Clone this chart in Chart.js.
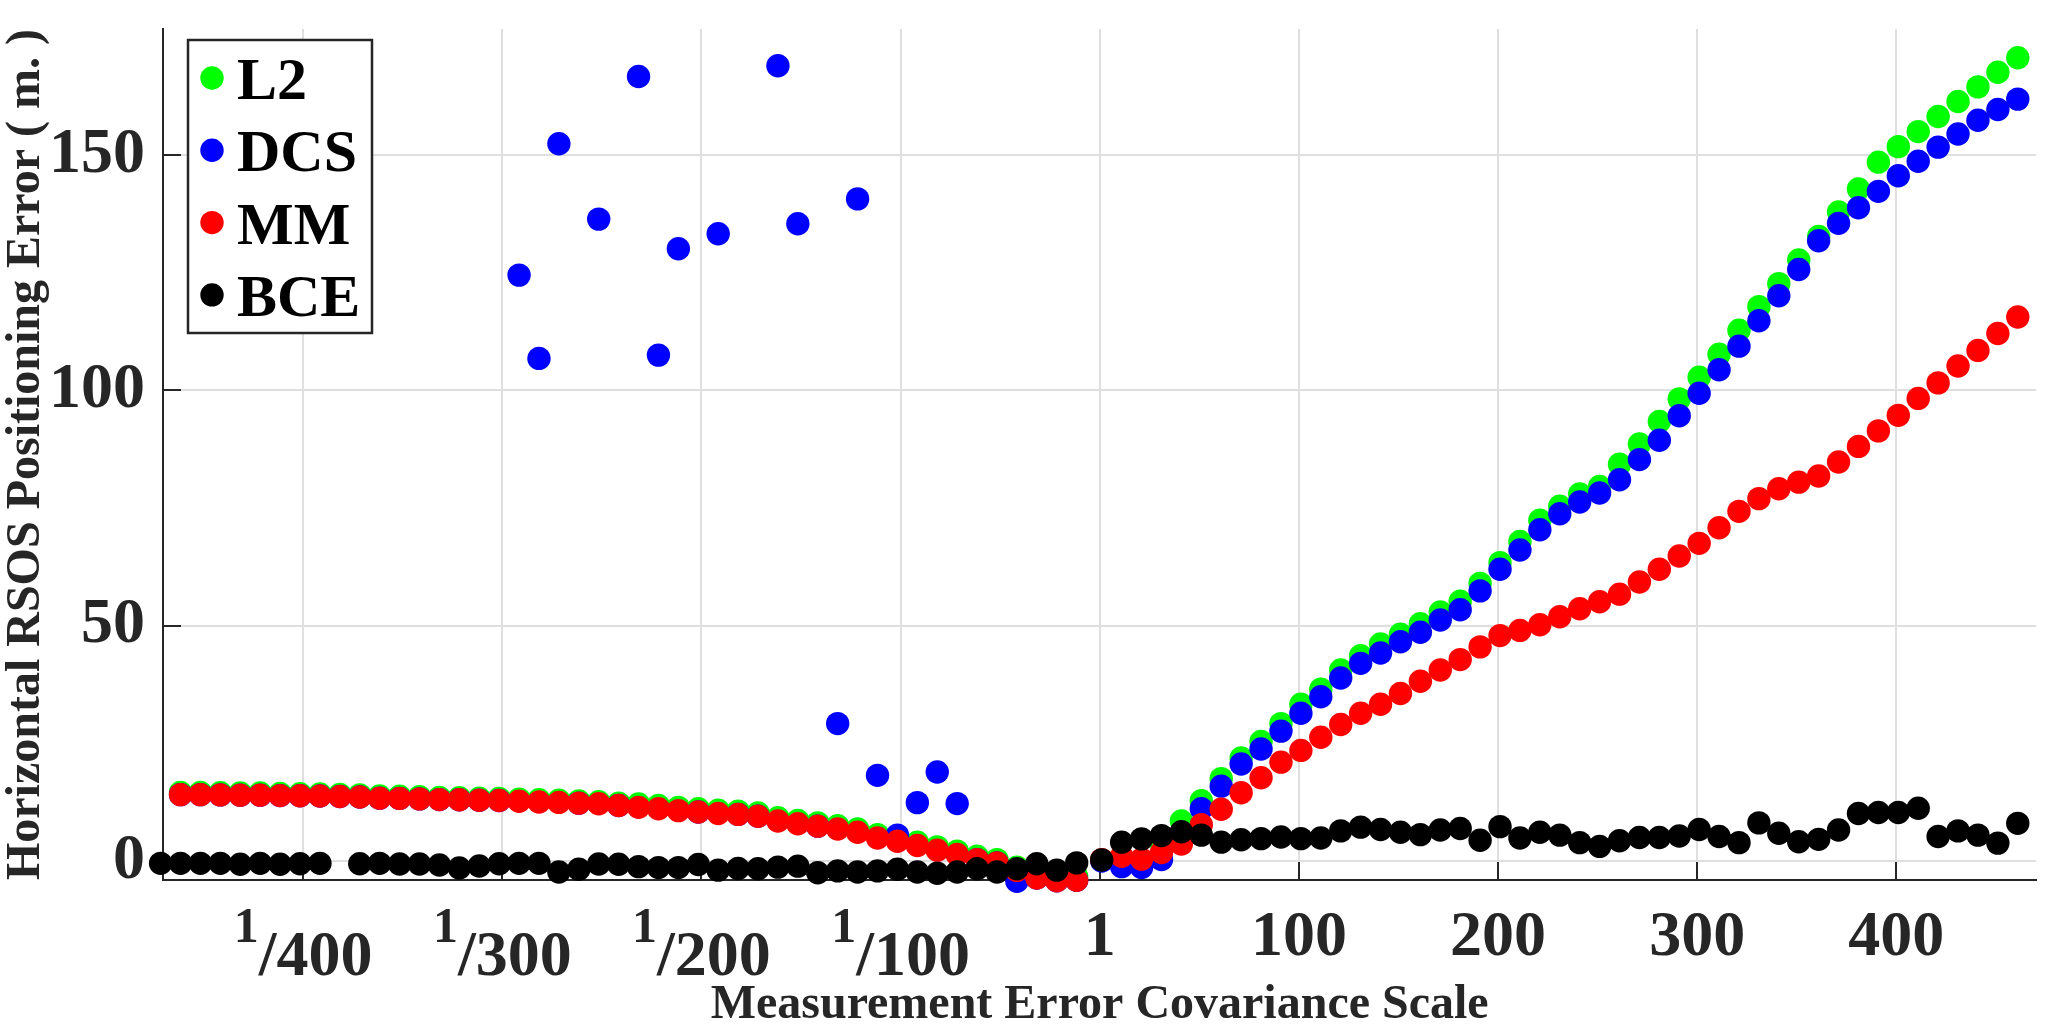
<!DOCTYPE html>
<html>
<head>
<meta charset="utf-8">
<title>Horizontal RSOS Positioning Error</title>
<script src="https://cdn.jsdelivr.net/npm/chart.js@4.4.1/dist/chart.umd.min.js"></script>
<style>
    html, body { margin: 0; padding: 0; background: #ffffff; }
    canvas { display: block; }
</style>
</head>
<body>
<canvas id="grafica" width="2048" height="1030"></canvas>
<script>
"use strict";

// posicion en el eje: -k para 1/k, k para la escala k
const xPos = [
    -471.6, -461.6, -451.6, -441.6, -431.6, -421.6, -411.6, -401.6, -391.6, -381.6,
    -371.6, -361.6, -351.6, -341.6, -331.6, -321.6, -311.6, -301.6, -291.6, -281.6,
    -271.6, -261.6, -251.6, -241.6, -231.6, -221.6, -211.6, -201.6, -191.6, -181.6,
    -171.6, -161.6, -151.6, -141.6, -131.6, -121.6, -111.6, -101.6, -91.6, -81.6,
    -71.6, -61.6, -51.6, -41.6, -31.6, -21.6, -11.6,
    1, 11, 21, 31, 41, 51, 61, 71, 81, 91,
    101, 111, 121, 131, 141, 151, 161, 171, 181, 191,
    201, 211, 221, 231, 241, 251, 261, 271, 281, 291,
    301, 311, 321, 331, 341, 351, 361, 371, 381, 391,
    401, 411, 421, 431, 441, 451, 461,
];

const l2 = [
    null, 14.55, 14.55, 14.5, 14.45, 14.45, 14.35, 14.3, 14.25, 14.15,
    14.05, 13.8, 13.75, 13.65, 13.5, 13.45, 13.35, 13.3, 13.15, 13.0,
    12.9, 12.75, 12.6, 12.3, 12.1, 11.8, 11.4, 11.1, 10.8, 10.6,
    10.2, 9.2, 8.6, 8.1, 7.5, 6.8, 5.6, 4.9, 4.0, 3.0,
    2.1, 1.0, 0.3, -1.3, -3.0, -3.6, -3.3,
    0.2, 0.0, -0.5, 3.6, 8.5, 12.8, 17.5, 21.9, 25.4, 29.2,
    33.3, 36.5, 40.6, 43.6, 46.1, 48.2, 50.4, 52.9, 55.2, 59.0,
    63.4, 67.9, 72.4, 75.4, 78.0, 79.6, 84.3, 88.6, 93.4, 98.2,
    102.8, 107.7, 112.8, 117.8, 122.7, 127.7, 132.7, 137.9, 142.8, 148.5,
    151.8, 155.0, 158.2, 161.4, 164.5, 167.6, 170.7,
];

const dcs = [
    null, 14.1, 14.1, 14.05, 14.0, 14.0, 13.9, 13.85, 13.8, 13.7,
    13.6, 13.35, 13.3, 13.2, 13.05, 13.0, 12.9, 12.85, 124.5, 106.8,
    152.4, 12.3, 136.4, 11.8, 166.7, 107.5, 130.1, 10.4, 133.3, 9.9,
    9.5, 169.0, 135.4, 7.4, 29.2, 140.7, 18.2, 5.5, 12.4, 18.9,
    12.2, 0.3, -0.4, -4.3, -3.6, -4.2, -4.1,
    0.0, -1.2, -1.4, 0.3, 5.5, 11.1, 15.9, 20.6, 23.8, 27.6,
    31.4, 34.9, 38.9, 42.0, 44.2, 46.6, 48.6, 51.2, 53.4, 57.4,
    62.0, 66.1, 70.4, 73.8, 76.3, 78.2, 81.0, 85.3, 89.4, 94.6,
    99.4, 104.4, 109.4, 114.8, 120.1, 125.7, 131.8, 135.5, 138.8, 142.3,
    145.6, 148.7, 151.7, 154.5, 157.4, 159.7, 161.9,
];

const mm = [
    null, 14.1, 14.1, 14.05, 14.0, 14.0, 13.9, 13.85, 13.8, 13.7,
    13.6, 13.35, 13.3, 13.2, 13.05, 13.0, 12.9, 12.85, 12.7, 12.55,
    12.45, 12.3, 12.15, 11.8, 11.4, 11.1, 10.7, 10.4, 10.1, 9.9,
    9.5, 8.5, 7.9, 7.4, 6.8, 6.1, 4.9, 4.2, 3.3, 2.3,
    1.4, 0.3, -0.4, -2.0, -3.6, -4.2, -4.1,
    0.3, 1.0, 0.4, 1.8, 3.6, 7.7, 11.0, 14.5, 17.7, 21.0,
    23.5, 26.3, 29.0, 31.4, 33.3, 35.6, 38.2, 40.6, 42.8, 45.5,
    47.9, 49.0, 50.2, 51.9, 53.6, 55.1, 56.7, 59.3, 62.0, 64.8,
    67.5, 70.8, 74.3, 77.0, 79.1, 80.5, 81.8, 84.8, 88.1, 91.4,
    94.7, 98.3, 101.6, 105.2, 108.5, 112.1, 115.6,
];

const bce = [
    -0.5, -0.5, -0.5, -0.5, -0.7, -0.5, -0.7, -0.6, -0.5, null,
    -0.6, -0.5, -0.65, -0.65, -0.85, -1.5, -1.05, -0.6, -0.5, -0.5,
    -2.35, -1.75, -0.65, -0.7, -1.2, -1.4, -1.4, -0.75, -1.95, -1.6,
    -1.65, -1.3, -1.1, -2.5, -2.1, -2.35, -2.1, -1.75, -2.35, -2.6,
    -2.35, -1.65, -2.35, -1.65, -0.6, -1.95, -0.4,
    0.2, 4.0, 4.7, 5.4, 6.2, 5.5, 4.0, 4.5, 4.75, 5.1,
    4.75, 4.9, 6.4, 7.2, 6.7, 6.1, 5.6, 6.6, 6.9, 4.4,
    7.3, 4.9, 6.1, 5.5, 3.9, 3.1, 4.3, 5.0, 5.0, 5.3,
    6.7, 5.2, 3.9, 8.1, 5.9, 4.1, 4.6, 6.6, 10.1, 10.3,
    10.3, 11.2, 5.2, 6.4, 5.5, 3.8, 8.0,
];

const seriesNames = ["L2", "DCS", "MM", "BCE"];
const seriesColors = ["#00ff00", "#0000ff", "#ff0000", "#000000"];

const xTickValues = [-400, -300, -200, -100, 0, 100, 200, 300, 400];
const xTickLabels = ["1/400", "1/300", "1/200", "1/100", "1", "100", "200", "300", "400"];
const yTickValues = [0, 50, 100, 150];

document.addEventListener("DOMContentLoaded", () => {
    const grafica = document.querySelector("#grafica");
    const FONT = '"Liberation Serif", "Times New Roman", serif';
    const ejeColor = "#262626";
    const gridColor = "#dfdfdf";

    /**
     * Marcas de los ejes hacia adentro (como en MATLAB)
     */
    const marcasInternas = {
        id: "marcasInternas",
        beforeDatasetsDraw(chart) {
            const { ctx, chartArea, scales } = chart;
            ctx.save();
            ctx.strokeStyle = ejeColor;
            ctx.lineWidth = 2;
            ctx.beginPath();
            scales.x.ticks.forEach((t) => {
                const px = Math.round(scales.x.getPixelForValue(t.value));
                ctx.moveTo(px, chartArea.bottom);
                ctx.lineTo(px, chartArea.bottom - 18);
            });
            scales.y.ticks.forEach((t) => {
                const py = Math.round(scales.y.getPixelForValue(t.value));
                ctx.moveTo(chartArea.left, py);
                ctx.lineTo(chartArea.left + 18, py);
            });
            ctx.stroke();
            ctx.restore();
        },
    };

    /**
     * Etiquetas del eje x, las fracciones con el 1 elevado
     */
    const etiquetasX = {
        id: "etiquetasX",
        afterDraw(chart) {
            const { ctx, chartArea, scales } = chart;
            const base = chartArea.bottom;
            ctx.save();
            ctx.fillStyle = ejeColor;
            ctx.textBaseline = "alphabetic";
            scales.x.ticks.forEach((t) => {
                const label = xTickLabels[xTickValues.indexOf(t.value)];
                const px = scales.x.getPixelForValue(t.value);
                if (label.includes("/")) {
                    const [num, den] = label.split("/");
                    ctx.font = `bold 50px ${FONT}`;
                    const wNum = ctx.measureText(num).width;
                    ctx.font = `bold 64px ${FONT}`;
                    const wDen = ctx.measureText("/" + den).width;
                    const x0 = px - (wNum + wDen) / 2;
                    ctx.textAlign = "left";
                    ctx.font = `bold 50px ${FONT}`;
                    ctx.fillText(num, x0, base + 62);
                    ctx.font = `bold 64px ${FONT}`;
                    ctx.fillText("/" + den, x0 + wNum, base + 95);
                } else {
                    ctx.textAlign = "center";
                    ctx.font = `bold 64px ${FONT}`;
                    ctx.fillText(label, px, base + 75);
                }
            });
            ctx.restore();
        },
    };

    /**
     * Leyenda dentro del area de la grafica
     */
    const leyenda = {
        id: "leyenda",
        afterDraw(chart) {
            const { ctx, chartArea } = chart;
            const x0 = chartArea.left + 25;
            const y0 = chartArea.top + 11;
            const paso = 72.3;
            ctx.save();
            ctx.fillStyle = "#ffffff";
            ctx.fillRect(x0, y0, 184, 293);
            ctx.strokeStyle = ejeColor;
            ctx.lineWidth = 2.5;
            ctx.strokeRect(x0, y0, 184, 293);
            ctx.font = `bold 60px ${FONT}`;
            ctx.textAlign = "left";
            ctx.textBaseline = "alphabetic";
            chart.data.datasets.forEach((ds, i) => {
                const cy = y0 + 38 + i * paso;
                ctx.fillStyle = ds.backgroundColor;
                ctx.beginPath();
                ctx.arc(x0 + 24, cy, 11.7, 0, Math.PI * 2);
                ctx.fill();
                ctx.fillStyle = "#000000";
                ctx.fillText(ds.label, x0 + 49, cy + 21);
            });
            ctx.restore();
        },
    };

    const datasets = [l2, dcs, mm, bce].map((serie, i) => ({
        label: seriesNames[i],
        data: xPos
            .map((x, j) => ({ x: x, y: serie[j] }))
            .filter((p) => p.y !== null),
        backgroundColor: seriesColors[i],
        borderColor: seriesColors[i],
        borderWidth: 0,
        pointRadius: 11.7,
        pointHoverRadius: 11.7,
        order: 4 - i,
        clip: false,
    }));

    new Chart(grafica, {
        type: "scatter",
        data: { datasets: datasets },
        options: {
            responsive: false,
            animation: false,
            devicePixelRatio: 1,
            layout: { padding: { top: 29, right: 0, bottom: 0, left: 0 } },
            plugins: {
                legend: { display: false },
                tooltip: { enabled: false },
            },
            scales: {
                x: {
                    type: "linear",
                    min: -470.4,
                    max: 470.3,
                    afterBuildTicks: (scale) => {
                        scale.ticks = xTickValues.map((v) => ({ value: v }));
                    },
                    afterFit: (scale) => {
                        scale.height = 150;
                    },
                    grid: { color: gridColor, lineWidth: 2, drawTicks: false },
                    border: { display: true, color: ejeColor, width: 2 },
                    ticks: { display: false },
                    title: {
                        display: true,
                        text: "Measurement Error Covariance Scale",
                        color: ejeColor,
                        font: { family: FONT, size: 48, weight: "bold", lineHeight: 1 },
                        padding: 0,
                    },
                },
                y: {
                    type: "linear",
                    min: -4.04,
                    max: 176.8,
                    afterBuildTicks: (scale) => {
                        scale.ticks = yTickValues.map((v) => ({ value: v }));
                    },
                    afterFit: (scale) => {
                        scale.width = 163;
                        scale.paddingTop = 0;
                        scale.paddingBottom = 0;
                    },
                    grid: { color: gridColor, lineWidth: 2, drawTicks: false },
                    border: { display: true, color: ejeColor, width: 2 },
                    ticks: {
                        color: ejeColor,
                        padding: 18,
                        font: { family: FONT, size: 64, weight: "bold", lineHeight: 0.1 },
                    },
                    title: {
                        display: true,
                        text: "Horizontal RSOS Positioning Error ( m. )",
                        color: ejeColor,
                        font: { family: FONT, size: 48, weight: "bold", lineHeight: 1 },
                        padding: { top: 3, bottom: 0 },
                    },
                },
            },
        },
        plugins: [marcasInternas, etiquetasX, leyenda],
    });
});
</script>
</body>
</html>
